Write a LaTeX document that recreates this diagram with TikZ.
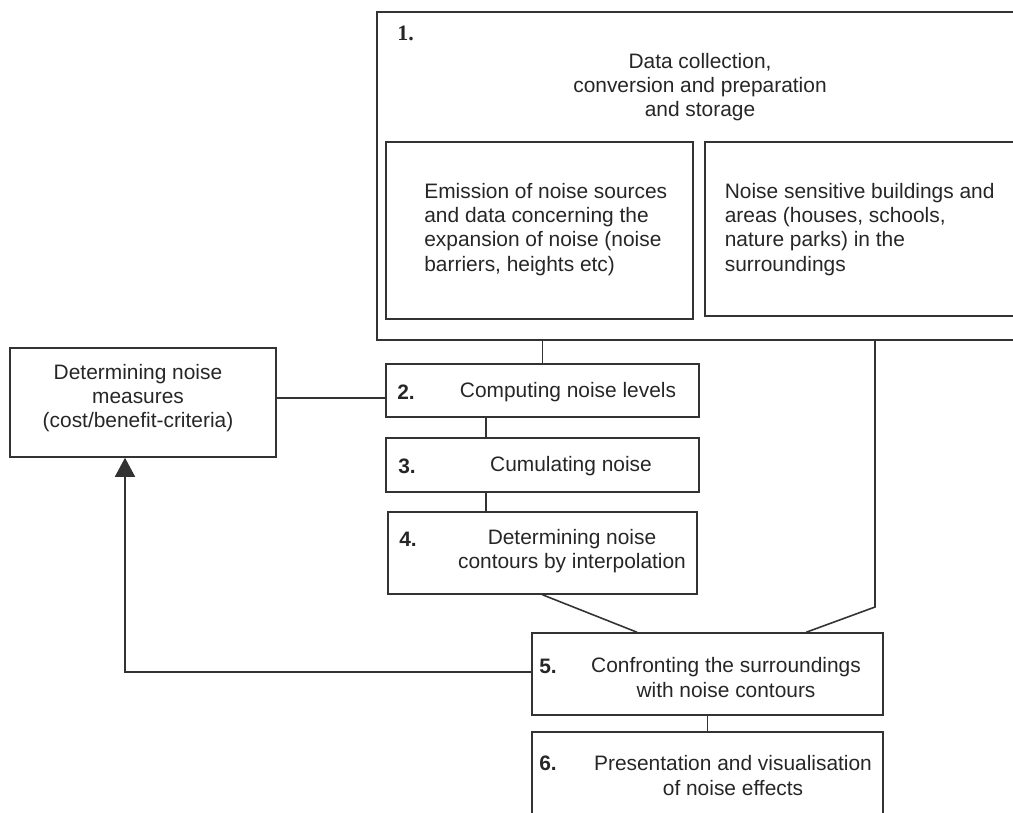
\documentclass[tikz,border=0pt]{standalone}
\usepackage{fontspec}
\setmainfont{Liberation Sans}
\newfontfamily\serifnum{Liberation Serif}
\usetikzlibrary{arrows.meta,calc}

\begin{document}
\begin{tikzpicture}[x=0.02cm,y=-0.02cm,
  every node/.style={font=\fontsize{11.9}{13.7}\selectfont,text=black!85},
  box/.style={draw=black!80,line width=0.9pt,inner sep=0pt},
  lbl/.style={inner sep=0pt,align=center},
  num/.style={inner sep=0pt,anchor=west,font=\bfseries\fontsize{11.9}{13.7}\selectfont},
  link/.style={draw=black!80,line width=0.9pt}]
\useasboundingbox (0,0) rectangle (1013,812);
\clip (0,0) rectangle (1013,812);
% Step 1: data collection block, running off the right edge
\node[box,minimum width=13.06cm,minimum height=6.56cm] (collect) at (703.5,176) {};
\node[num,font=\serifnum\bfseries\fontsize{12.5}{14}\selectfont] (n1) at (397,33) {1.};
\node[lbl] (ttl) at (700,87) {Data collection,\\conversion and preparation\\and storage};
\node[box,minimum width=6.14cm,minimum height=3.54cm] (emis) at (539.5,230.5) {};
\node[lbl,align=left,anchor=west] (emistxt) at (424,229.5) {Emission of noise sources\\and data concerning the\\expansion of noise (noise\\barriers, heights etc)};
\node[box,minimum width=6.5cm,minimum height=3.48cm] (sens) at (867.5,229) {};
\node[lbl,align=left,anchor=west] (senstxt) at (724.5,229.5) {Noise sensitive buildings and\\areas (houses, schools,\\nature parks) in the\\surroundings};
% Measures box on the left
\node[box,minimum width=5.32cm,minimum height=2.18cm] (meas) at (143,402.5) {};
\node[lbl] (meastxt) at (138,398) {Determining noise\\measures\\(cost/benefit-criteria)};
% Steps 2 to 6
\node[box,minimum width=6.26cm,minimum height=1.06cm] (comp) at (542.5,390.5) {};
\node[num] (n2) at (397,392) {2.};
\node[lbl] (comptxt) at (568,392) {Computing noise levels};
\node[box,minimum width=6.26cm,minimum height=1.08cm] (cumul) at (542.5,465) {};
\node[num] (n3) at (398,466) {3.};
\node[lbl] (cumultxt) at (571,466) {Cumulating noise};
\node[box,minimum width=6.18cm,minimum height=1.64cm] (contour) at (542.5,553) {};
\node[num] (n4) at (399,539) {4.};
\node[lbl] (contourtxt) at (572,551) {Determining noise\\contours by interpolation};
\node[box,minimum width=7.02cm,minimum height=1.64cm] (confront) at (707.5,674) {};
\node[num] (n5) at (539,666) {5.};
\node[lbl] (confronttxt) at (726,677.5) {Confronting the surroundings\\with noise contours};
\node[box,minimum width=7.02cm,minimum height=1.96cm] (present) at (707.5,781) {};
\node[num] (n6) at (539,763) {6.};
\node[lbl] (presenttxt) at (733,775.5) {Presentation and visualisation\\of noise effects};
% Connectors
\coordinate (j2) at (386,398);
\coordinate (kink) at (875,607);
\coordinate (fb) at (125,672);
\coordinate (c2) at ($(comp.south west)!0.32!(comp.south east)$);
\draw[link] (collect.south -| comp.north) -- (comp.north);
\draw[link] (meas.east |- j2) -- (comp.west |- j2);
\foreach \a/\b in {comp/cumul,cumul/contour} \draw[link] (\a.south -| c2) -- (\b.north -| c2);
\draw[link] (contour.south) -- ($(confront.north west)!0.3!(confront.north east)$);
\draw[link] (collect.south -| kink) -- (kink) -- ($(confront.north west)!0.78!(confront.north east)$);
\draw[link] (confront.south) -- (present.north);
\draw[link,-{Triangle[width=0.4cm,length=0.38cm]}] (confront.west |- fb) -- (fb) -- (fb |- meas.south);
\end{tikzpicture}
\end{document}
